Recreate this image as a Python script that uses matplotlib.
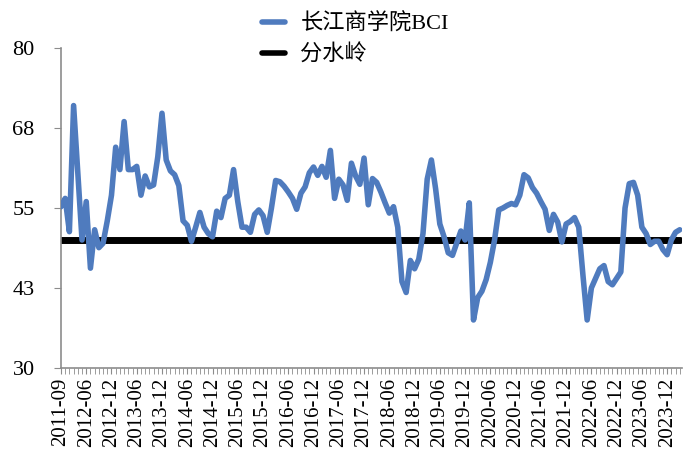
import matplotlib
matplotlib.use("Agg")
import matplotlib.pyplot as plt
import numpy as np

plt.rcParams['font.family'] = ['Liberation Serif', 'Noto Sans CJK SC']

# 长江商学院BCI 月度值
bci = [55.2, 56.5, 51.3, 71.0, 60.5, 50.0, 56.0, 45.6, 51.6, 48.8,
       49.5, 53.0, 57.0, 64.5, 61.0, 68.5, 61.0, 61.0, 61.5, 57.0,
       60.0, 58.3, 58.6, 63.0, 69.8, 62.5, 60.8, 60.2, 58.5, 53.0,
       52.3, 49.8, 52.0, 54.3, 52.0, 51.0, 50.5, 54.5, 53.5, 56.5,
       57.0, 61.0, 56.0, 52.0, 52.0, 51.2, 54.0, 54.7, 53.8, 51.2,
       55.0, 59.3, 59.1, 58.4, 57.5, 56.5, 54.8, 57.3, 58.3, 60.5,
       61.4, 60.1, 61.5, 59.8, 64.0, 56.5, 59.5, 58.6, 56.2, 62.0,
       60.0, 58.7, 62.8, 55.5, 59.6, 59.0, 57.5, 55.8, 54.2, 55.2,
       52.0, 43.5, 41.8, 46.8, 45.5, 47.0, 51.0, 59.5, 62.5, 58.0,
       52.5, 50.5, 48.0, 47.6, 49.5, 51.4, 50.0, 55.8, 37.5, 41.0,
       42.0, 43.8, 46.5, 50.0, 54.7, 55.0, 55.4, 55.7, 55.5, 57.0,
       60.2, 59.7, 58.2, 57.3, 56.0, 54.8, 51.5, 54.0, 52.8, 49.7,
       52.5, 52.9, 53.5, 52.0, 44.5, 37.5, 42.5, 44.0, 45.5, 46.0,
       43.5, 43.0, 44.0, 45.0, 55.0, 58.8, 59.0, 57.0, 52.0, 51.0,
       49.3, 49.8, 49.8, 48.5, 47.7, 50.0, 51.2, 51.6]
threshold = 50

tick_labels = ['2011-09'] + ['%d-%s' % (y, m) for y in range(2012, 2024) for m in ('06', '12')]
y_ticks = [30, 42.5, 55, 67.5, 80]
y_labels = ['30', '43', '55', '68', '80']

x = np.arange(len(bci))

fig = plt.figure(figsize=(7, 4.76), dpi=100)
ax = fig.add_axes([0.0871, 0.2269, 0.8870, 0.6723])

ax.plot(x, bci, color='#4F7BBE', lw=4, solid_joinstyle='round', solid_capstyle='round',
        label='长江商学院BCI', zorder=3)
ax.plot(x, [threshold] * len(x), color='black', lw=5, solid_capstyle='round',
        label='分水岭', zorder=2)

ax.set_xlim(0, 147.5)
ax.set_ylim(30, 80)
ax.set_yticks(y_ticks)
ax.set_yticklabels(y_labels, fontsize=16)
ax.set_xticks(np.arange(0, 6 * len(tick_labels), 6))
ax.set_xticklabels(tick_labels, rotation=90, fontsize=15)
ax.set_xticks(x, minor=True)

for s in ['top', 'right']:
    ax.spines[s].set_visible(False)
for s in ['left', 'bottom']:
    ax.spines[s].set_color('#8C8C8C')
    ax.spines[s].set_linewidth(1.2)
ax.tick_params(axis='both', which='both', color='#8C8C8C', direction='out')
ax.tick_params(axis='y', length=5, pad=14)
ax.tick_params(axis='x', which='both', length=4, pad=3)

leg = ax.legend(loc='upper left', bbox_to_anchor=(246 / 700, 1.005), bbox_transform=fig.transFigure,
                frameon=False, fontsize=16, handlelength=1.05, handletextpad=0.7,
                labelspacing=0.45, borderpad=0.2)
for h in leg.get_lines():
    h.set_linewidth(4)

fig.savefig('out.png', dpi=100)
